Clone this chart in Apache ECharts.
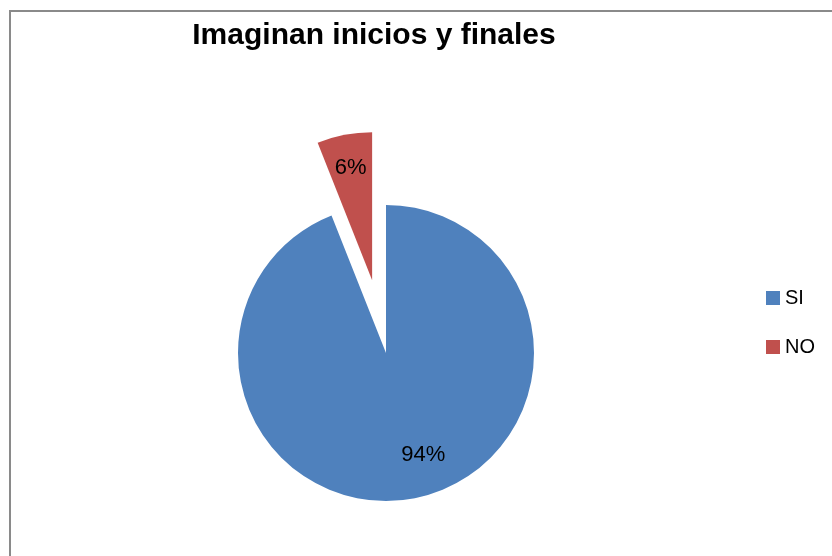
<!DOCTYPE html>
<html>
<head>
<meta charset="utf-8">
<script src="https://cdn.jsdelivr.net/npm/echarts@6/dist/echarts.min.js"></script>
<style>
html,body{margin:0;padding:0;background:#fff;}
#chart{width:832px;height:556px;}
</style>
</head>
<body>
<div id="chart"></div>
<script>
const categories = ['SI', 'NO'];
const values = [94, 6];
const colors = ['#4F81BD', '#C0504D'];
const titleText = 'Imaginan inicios y finales';

const pieData = categories.map((c, i) => ({
  name: c,
  value: values[i],
  selected: c === 'NO',
  itemStyle: { color: colors[i] }
}));
const labelData = categories.map((c, i) => ({
  name: c,
  value: values[i],
  selected: c === 'NO',
  itemStyle: { color: 'rgba(0,0,0,0)' },
  label: c === 'SI' ? { offset: [16, -10] } : {}
}));

const chart = echarts.init(document.getElementById('chart'), null, { renderer: 'canvas' });
chart.setOption({
  animation: false,
  backgroundColor: '#ffffff',
  title: {
    text: titleText,
    left: 369,
    textAlign: 'center',
    top: 16,
    textStyle: { fontFamily: 'Liberation Sans', fontWeight: 'bold', fontSize: 30, color: '#000' }
  },
  graphic: [{
    type: 'rect',
    silent: true,
    shape: { x: 10, y: 11, width: 900, height: 700 },
    style: { fill: 'none', stroke: '#8a8a8a', lineWidth: 2 }
  }],
  legend: {
    orient: 'vertical',
    left: 761,
    top: 283,
    icon: 'rect',
    itemWidth: 14,
    itemHeight: 14,
    itemGap: 29,
    selectedMode: false,
    textStyle: { fontFamily: 'Liberation Sans', fontSize: 20, lineHeight: 20, color: '#000' },
    data: categories.map((c, i) => ({ name: c, itemStyle: { color: colors[i] } }))
  },
  series: [
    {
      type: 'pie',
      center: [386, 353],
      radius: [0, 148],
      startAngle: 90,
      clockwise: true,
      selectedMode: 'single',
      selectedOffset: 74,
      silent: true,
      emphasis: { disabled: true },
      label: { show: false },
      labelLine: { show: false },
      data: pieData
    },
    {
      type: 'pie',
      center: [386, 353],
      radius: [74, 148],
      startAngle: 90,
      clockwise: true,
      selectedMode: 'single',
      selectedOffset: 74,
      silent: true,
      emphasis: { disabled: true },
      label: {
        show: true,
        position: 'inside',
        formatter: p => p.value + '%',
        fontFamily: 'Liberation Sans',
        fontSize: 22,
        color: '#000'
      },
      labelLine: { show: false },
      data: labelData
    }
  ]
});
</script>
</body>
</html>
